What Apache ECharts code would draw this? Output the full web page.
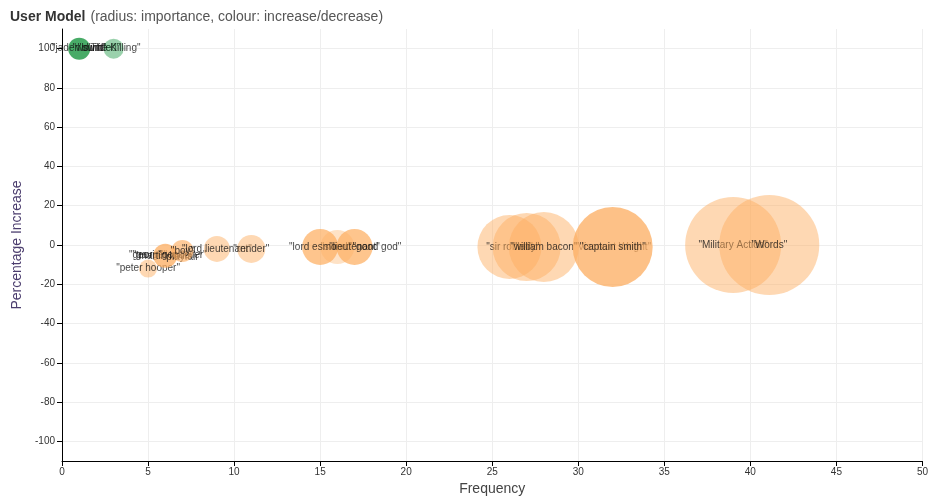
<!DOCTYPE html>
<html>
<head>
<meta charset="utf-8">
<script src="https://cdn.jsdelivr.net/npm/echarts@6/dist/echarts.min.js"></script>
<style>
  html, body { margin: 0; padding: 0; background: #fff; }
  #chart { width: 931px; height: 501px; }
</style>
</head>
<body>
<div id="chart"></div>
<script>
// ---- data ----
const names      = ["jaden swift", "wounded", "bundle", "The Killing",
                    "george", "gavin", "peter hooper", "martin hollis", "gondolier", "playfair", "boy",
                    "lord lieutenant", "render",
                    "sword", "lord esmond", "lieutenant", "good god",
                    "sir robert", "lady", "william bacon", "Viscount Wright", "captain smith",
                    "Military Action", "Words"];
const frequency  = [1, 2, 2, 3,
                    5, 5, 5, 6, 7, 7, 7,
                    9, 11,
                    16, 15, 17, 18.3,
                    26, 27, 28, 32, 32,
                    39, 41.1];
const percentage = [100, 100, 100, 100,
                    -5, -5, -12, -5.5, -5, -6, -3,
                    -2, -2,
                    -1, -1, -1, -1,
                    -1, -1, -1, -1, -1,
                    0, 0];
const importance = [11, 0, 0, 10,
                    0, 0, 9, 12, 0, 0, 11,
                    13, 14,
                    17, 18, 18, 0,
                    32, 34, 35, 0, 40,
                    48, 50];
const strength   = [1, 1, 1, 0.55,
                    1, 1, 0.6, 0.95, 1, 1, 0.8,
                    0.6, 0.6,
                    0.45, 0.9, 0.9, 1,
                    0.6, 0.6, 0.6, 1, 0.95,
                    0.6, 0.6];
const xTicks = [0, 5, 10, 15, 20, 25, 30, 35, 40, 45, 50];
const yTicks = [-100, -80, -60, -40, -20, 0, 20, 40, 60, 80, 100];

// ---- chart ----
const chart = echarts.init(document.getElementById('chart'), null, { renderer: 'canvas' });
const FONT = 'Liberation Sans, Arial, sans-serif';

function colourFor(pct, a) {
  return pct > 0 ? 'rgba(26,150,65,' + a + ')' : 'rgba(253,174,97,' + a + ')';
}

const series = names.map((n, i) => ({
  type: 'scatter',
  z: 2 + i,
  silent: true,
  data: [[frequency[i], percentage[i]]],
  symbol: 'circle',
  symbolSize: importance[i] * 2,
  itemStyle: { color: colourFor(percentage[i], strength[i]) },
  label: {
    show: true,
    position: 'inside',
    formatter: '"' + n + '"',
    color: '#111',
    fontSize: 10,
    fontFamily: FONT
  },
  emphasis: { disabled: true }
}));

chart.setOption({
  animation: false,
  title: {
    left: 5, top: 3,
    text: '{b|User Model} {n|(radius: importance, colour: increase/decrease)}',
    textStyle: {
      fontWeight: 'normal',
      rich: {
        b: { fontWeight: 'bold', fontSize: 14, color: '#333', fontFamily: FONT },
        n: { fontWeight: 'normal', fontSize: 14, color: '#555', fontFamily: FONT }
      }
    }
  },
  grid: { left: 62, right: 6, top: 29, bottom: 36, containLabel: false },
  xAxis: {
    type: 'value', min: 0, max: 50, interval: 5,
    name: 'Frequency', nameLocation: 'middle', nameGap: 21,
    nameTextStyle: { fontSize: 14, color: '#444', fontFamily: FONT },
    axisLine: { show: true, onZero: false, lineStyle: { color: '#000', width: 1 } },
    axisTick: { show: true, length: 5, lineStyle: { color: '#000' } },
    axisLabel: { fontSize: 10, color: '#333', fontFamily: FONT, margin: 6 },
    splitLine: { show: true, lineStyle: { color: '#eee', width: 1 } }
  },
  yAxis: {
    type: 'value', min: -110, max: 110,
    name: 'Percentage Increase', nameLocation: 'middle', nameGap: 33,
    nameTextStyle: { fontSize: 14, color: '#4b3d6e', fontFamily: FONT },
    axisLine: { show: true, onZero: false, lineStyle: { color: '#000', width: 1 } },
    axisTick: { show: true, length: 5, lineStyle: { color: '#000' }, customValues: yTicks },
    axisLabel: { fontSize: 10, color: '#333', fontFamily: FONT, margin: 7, customValues: yTicks },
    splitLine: { show: true, lineStyle: { color: '#eee', width: 1 } }
  },
  series: series
});
</script>
</body>
</html>
